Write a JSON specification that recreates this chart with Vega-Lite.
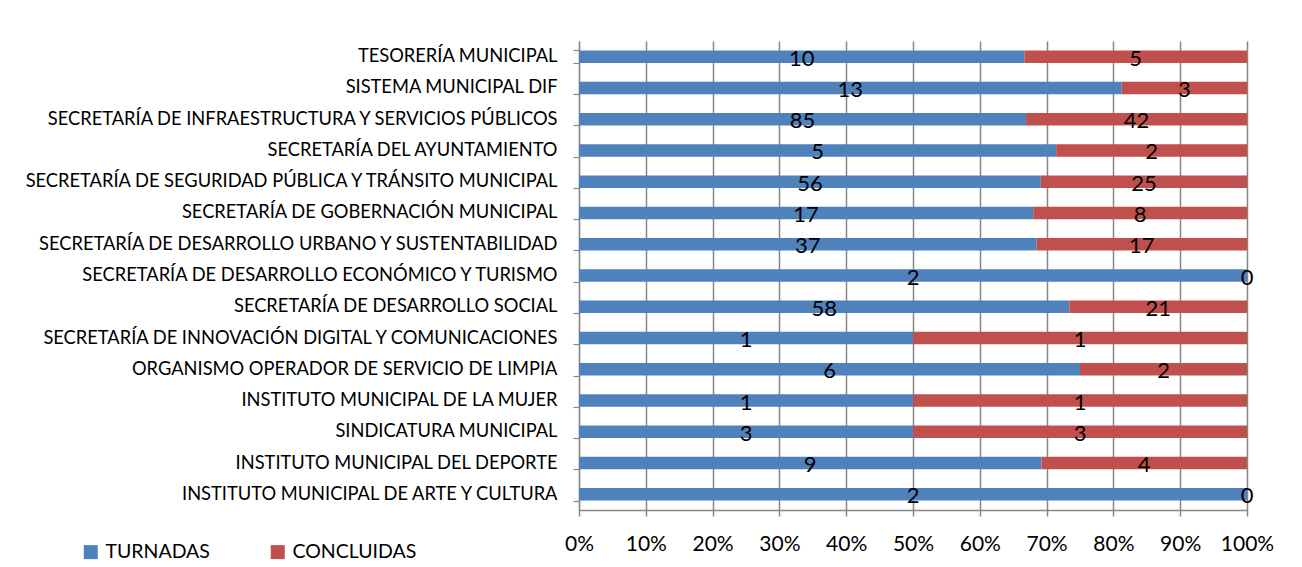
{
  "$schema": "https://vega.github.io/schema/vega-lite/v6.json",
  "autosize": {"type": "none"},
  "width": 668,
  "height": 469,
  "padding": {"left": 579, "top": 41, "right": 55, "bottom": 57},
  "background": "white",
  "config": {"view": {"stroke": null}, "font": "Lato"},
  "data": {"values": [
    {"dep": "TESORERÍA MUNICIPAL", "o": 1, "estado": "TURNADAS", "k": 1, "valor": 10},
    {"dep": "TESORERÍA MUNICIPAL", "o": 1, "estado": "CONCLUIDAS", "k": 2, "valor": 5},
    {"dep": "SISTEMA MUNICIPAL DIF", "o": 2, "estado": "TURNADAS", "k": 1, "valor": 13},
    {"dep": "SISTEMA MUNICIPAL DIF", "o": 2, "estado": "CONCLUIDAS", "k": 2, "valor": 3},
    {"dep": "SECRETARÍA DE INFRAESTRUCTURA Y SERVICIOS PÚBLICOS", "o": 3, "estado": "TURNADAS", "k": 1, "valor": 85},
    {"dep": "SECRETARÍA DE INFRAESTRUCTURA Y SERVICIOS PÚBLICOS", "o": 3, "estado": "CONCLUIDAS", "k": 2, "valor": 42},
    {"dep": "SECRETARÍA DEL AYUNTAMIENTO", "o": 4, "estado": "TURNADAS", "k": 1, "valor": 5},
    {"dep": "SECRETARÍA DEL AYUNTAMIENTO", "o": 4, "estado": "CONCLUIDAS", "k": 2, "valor": 2},
    {"dep": "SECRETARÍA DE SEGURIDAD PÚBLICA Y TRÁNSITO MUNICIPAL", "o": 5, "estado": "TURNADAS", "k": 1, "valor": 56},
    {"dep": "SECRETARÍA DE SEGURIDAD PÚBLICA Y TRÁNSITO MUNICIPAL", "o": 5, "estado": "CONCLUIDAS", "k": 2, "valor": 25},
    {"dep": "SECRETARÍA DE GOBERNACIÓN MUNICIPAL", "o": 6, "estado": "TURNADAS", "k": 1, "valor": 17},
    {"dep": "SECRETARÍA DE GOBERNACIÓN MUNICIPAL", "o": 6, "estado": "CONCLUIDAS", "k": 2, "valor": 8},
    {"dep": "SECRETARÍA DE DESARROLLO URBANO Y SUSTENTABILIDAD", "o": 7, "estado": "TURNADAS", "k": 1, "valor": 37},
    {"dep": "SECRETARÍA DE DESARROLLO URBANO Y SUSTENTABILIDAD", "o": 7, "estado": "CONCLUIDAS", "k": 2, "valor": 17},
    {"dep": "SECRETARÍA DE DESARROLLO ECONÓMICO Y TURISMO", "o": 8, "estado": "TURNADAS", "k": 1, "valor": 2},
    {"dep": "SECRETARÍA DE DESARROLLO ECONÓMICO Y TURISMO", "o": 8, "estado": "CONCLUIDAS", "k": 2, "valor": 0},
    {"dep": "SECRETARÍA DE DESARROLLO SOCIAL", "o": 9, "estado": "TURNADAS", "k": 1, "valor": 58},
    {"dep": "SECRETARÍA DE DESARROLLO SOCIAL", "o": 9, "estado": "CONCLUIDAS", "k": 2, "valor": 21},
    {"dep": "SECRETARÍA DE INNOVACIÓN DIGITAL Y COMUNICACIONES", "o": 10, "estado": "TURNADAS", "k": 1, "valor": 1},
    {"dep": "SECRETARÍA DE INNOVACIÓN DIGITAL Y COMUNICACIONES", "o": 10, "estado": "CONCLUIDAS", "k": 2, "valor": 1},
    {"dep": "ORGANISMO OPERADOR DE SERVICIO DE LIMPIA", "o": 11, "estado": "TURNADAS", "k": 1, "valor": 6},
    {"dep": "ORGANISMO OPERADOR DE SERVICIO DE LIMPIA", "o": 11, "estado": "CONCLUIDAS", "k": 2, "valor": 2},
    {"dep": "INSTITUTO MUNICIPAL DE LA MUJER", "o": 12, "estado": "TURNADAS", "k": 1, "valor": 1},
    {"dep": "INSTITUTO MUNICIPAL DE LA MUJER", "o": 12, "estado": "CONCLUIDAS", "k": 2, "valor": 1},
    {"dep": "SINDICATURA MUNICIPAL", "o": 13, "estado": "TURNADAS", "k": 1, "valor": 3},
    {"dep": "SINDICATURA MUNICIPAL", "o": 13, "estado": "CONCLUIDAS", "k": 2, "valor": 3},
    {"dep": "INSTITUTO MUNICIPAL DEL DEPORTE", "o": 14, "estado": "TURNADAS", "k": 1, "valor": 9},
    {"dep": "INSTITUTO MUNICIPAL DEL DEPORTE", "o": 14, "estado": "CONCLUIDAS", "k": 2, "valor": 4},
    {"dep": "INSTITUTO MUNICIPAL DE ARTE Y CULTURA", "o": 15, "estado": "TURNADAS", "k": 1, "valor": 2},
    {"dep": "INSTITUTO MUNICIPAL DE ARTE Y CULTURA", "o": 15, "estado": "CONCLUIDAS", "k": 2, "valor": 0}
  ]},
  "transform": [
    {"stack": "valor", "groupby": ["dep"], "as": ["v0", "v1"], "offset": "normalize", "sort": [{"field": "k", "order": "ascending"}]},
    {"calculate": "(datum.v0 + datum.v1) / 2", "as": "mid"}
  ],
  "encoding": {
    "y": {
      "field": "dep", "type": "nominal", "sort": {"field": "o", "op": "min", "order": "ascending"}, "title": null,
      "scale": {"paddingInner": 0.6, "paddingOuter": 0.3},
      "axis": {
        "tickBand": "extent", "domainColor": "#868686", "domainWidth": 1.2, "tickColor": "#868686", "tickWidth": 1.2, "tickSize": 6,
        "labelFont": "Lato", "labelFontSize": 18.3, "labelColor": "#000000", "labelPadding": 16, "labelLimit": 600, "grid": false
      }
    }
  },
  "layer": [
    {
      "mark": {"type": "bar"},
      "encoding": {
        "x": {
          "field": "v0", "type": "quantitative", "title": null,
          "scale": {"domain": [0, 1], "nice": false, "zero": false},
          "axis": {
            "format": ".0%", "values": [0, 0.1, 0.2, 0.3, 0.4, 0.5, 0.6, 0.7, 0.8, 0.9, 1],
            "grid": true, "gridColor": "#868686", "gridWidth": 1.5, "gridOpacity": 1,
            "domainColor": "#868686", "domainWidth": 1.5, "tickColor": "#868686", "tickWidth": 1.5, "tickSize": 6,
            "labelFont": "Lato", "labelFontSize": 21, "labelColor": "#000000", "labelBaseline": "middle", "labelPadding": 28, "labelFlush": false
          }
        },
        "x2": {"field": "v1"},
        "color": {
          "field": "estado", "type": "nominal",
          "scale": {"domain": ["TURNADAS", "CONCLUIDAS"], "range": ["#4F81BD", "#C0504D"]},
          "legend": {
            "title": null, "orient": "none", "direction": "horizontal", "legendX": -498, "legendY": 501,
            "symbolType": "square", "symbolSize": 196, "symbolStrokeWidth": 0, "symbolOpacity": 1,
            "labelFont": "Lato", "labelFontSize": 19.5, "labelColor": "#000000", "labelOffset": 5, "columnPadding": 58
          }
        }
      }
    },
    {
      "mark": {"type": "text", "fontSize": 22, "font": "Lato", "color": "#000000", "baseline": "middle", "dy": 2},
      "encoding": {
        "x": {"field": "mid", "type": "quantitative"},
        "text": {"field": "valor", "type": "quantitative"}
      }
    }
  ]
}
